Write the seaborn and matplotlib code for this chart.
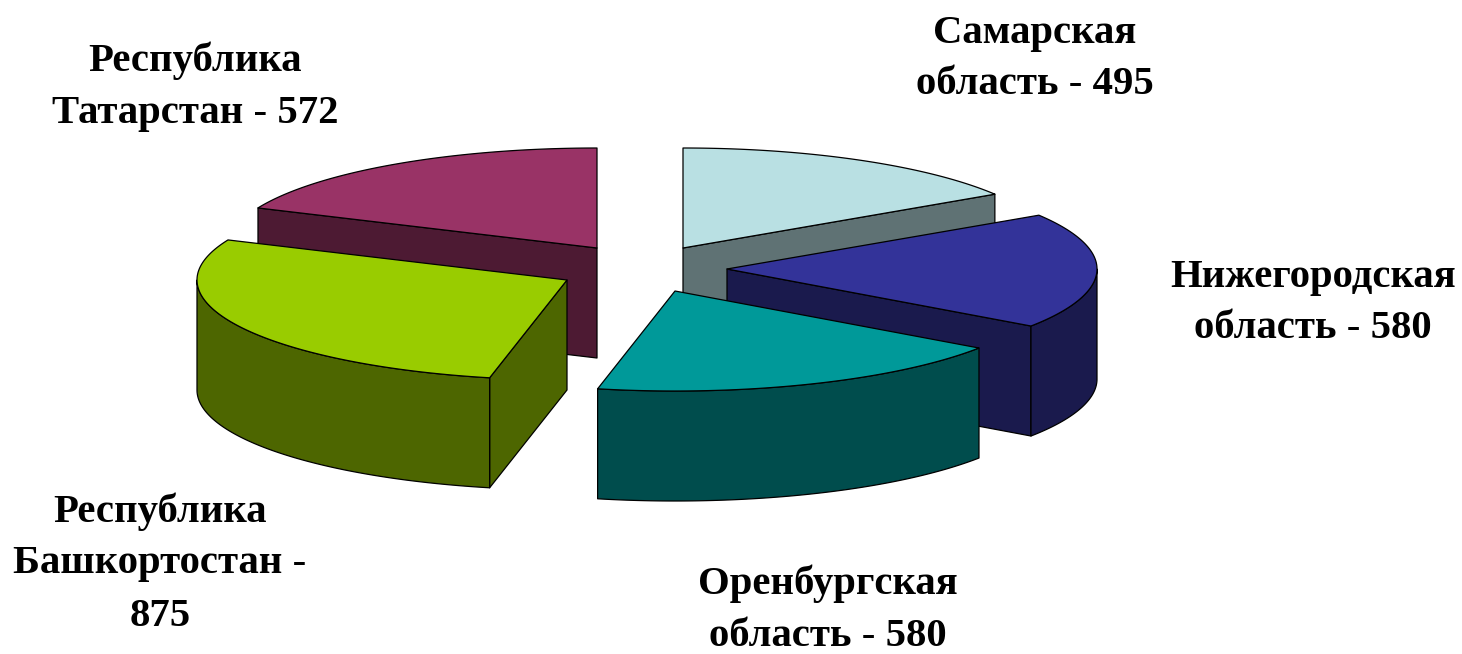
import numpy as np
import matplotlib
matplotlib.use("Agg")
import matplotlib.pyplot as plt
import seaborn as sns

# Data
regions = ["Самарская область", "Нижегородская область", "Оренбургская область",
           "Республика Башкортостан", "Республика Татарстан"]
values = [495, 580, 580, 875, 572]
label_lines = [["Самарская", "область - 495"],
               ["Нижегородская", "область - 580"],
               ["Оренбургская", "область - 580"],
               ["Республика", "Башкортостан -", "875"],
               ["Республика", "Татарстан - 572"]]

# Style
top_colors = ["#B9E0E3", "#333399", "#009999", "#99CC00", "#993366"]
side_colors = ["#5F7274", "#1A1A4D", "#004D4D", "#4D6600", "#4D1A33"]
apex = [(683, 248), (727, 269), (675, 291), (567, 280), (597, 248)]
label_pos = [(1035, 33), (1313, 277), (828, 584), (160, 512), (195, 61)]
draw_order = [0, 4, 3, 1, 2]
RX, RY, DEPTH = 370, 100, 110
LINE = 0.9
FONT = 29.3
LEADING = 52

sns.set_theme(style="white")
plt.rcParams["font.family"] = ["Liberation Serif", "DejaVu Serif"]

fig = plt.figure(figsize=(14.62, 6.54), dpi=100)
ax = fig.add_axes([0, 0, 1, 1])
ax.set_xlim(0, 1462)
ax.set_ylim(654, 0)
ax.axis("off")

edges = np.concatenate([[0], np.cumsum(values)]) / sum(values) * 2 * np.pi


def rim(cx, cy, t, dy=0):
    return np.column_stack([cx + RX * np.sin(t), cy - RY * np.cos(t) + dy])


for i in draw_order:
    cx, cy = apex[i]
    a, b = edges[i], edges[i + 1]
    kw = dict(edgecolor="black", linewidth=LINE, joinstyle="round")
    # cut faces turned to the viewer
    for ang, visible in ((a, np.sin(a) < -1e-6), (b, np.sin(b) > 1e-6)):
        if visible:
            p = rim(cx, cy, np.array([ang]))[0]
            ax.fill([cx, p[0], p[0], cx], [cy, p[1], p[1] + DEPTH, cy + DEPTH],
                    facecolor=side_colors[i], **kw)
    # outer wall, front half only
    lo, hi = max(a, np.pi / 2), min(b, 3 * np.pi / 2)
    if hi > lo:
        t = np.linspace(lo, hi, 120)
        wall = np.vstack([rim(cx, cy, t), rim(cx, cy, t[::-1], DEPTH)])
        ax.fill(wall[:, 0], wall[:, 1], facecolor=side_colors[i], **kw)
    # top
    t = np.linspace(a, b, 200)
    top = np.vstack([[cx, cy], rim(cx, cy, t)])
    ax.fill(top[:, 0], top[:, 1], facecolor=top_colors[i], **kw)

for lines, (x, y) in zip(label_lines, label_pos):
    for k, line in enumerate(lines):
        ax.text(x, y + k * LEADING, line, ha="center", va="center",
                fontsize=FONT, fontweight="bold", color="black")

fig.savefig("out.png", dpi=100, facecolor="white")
